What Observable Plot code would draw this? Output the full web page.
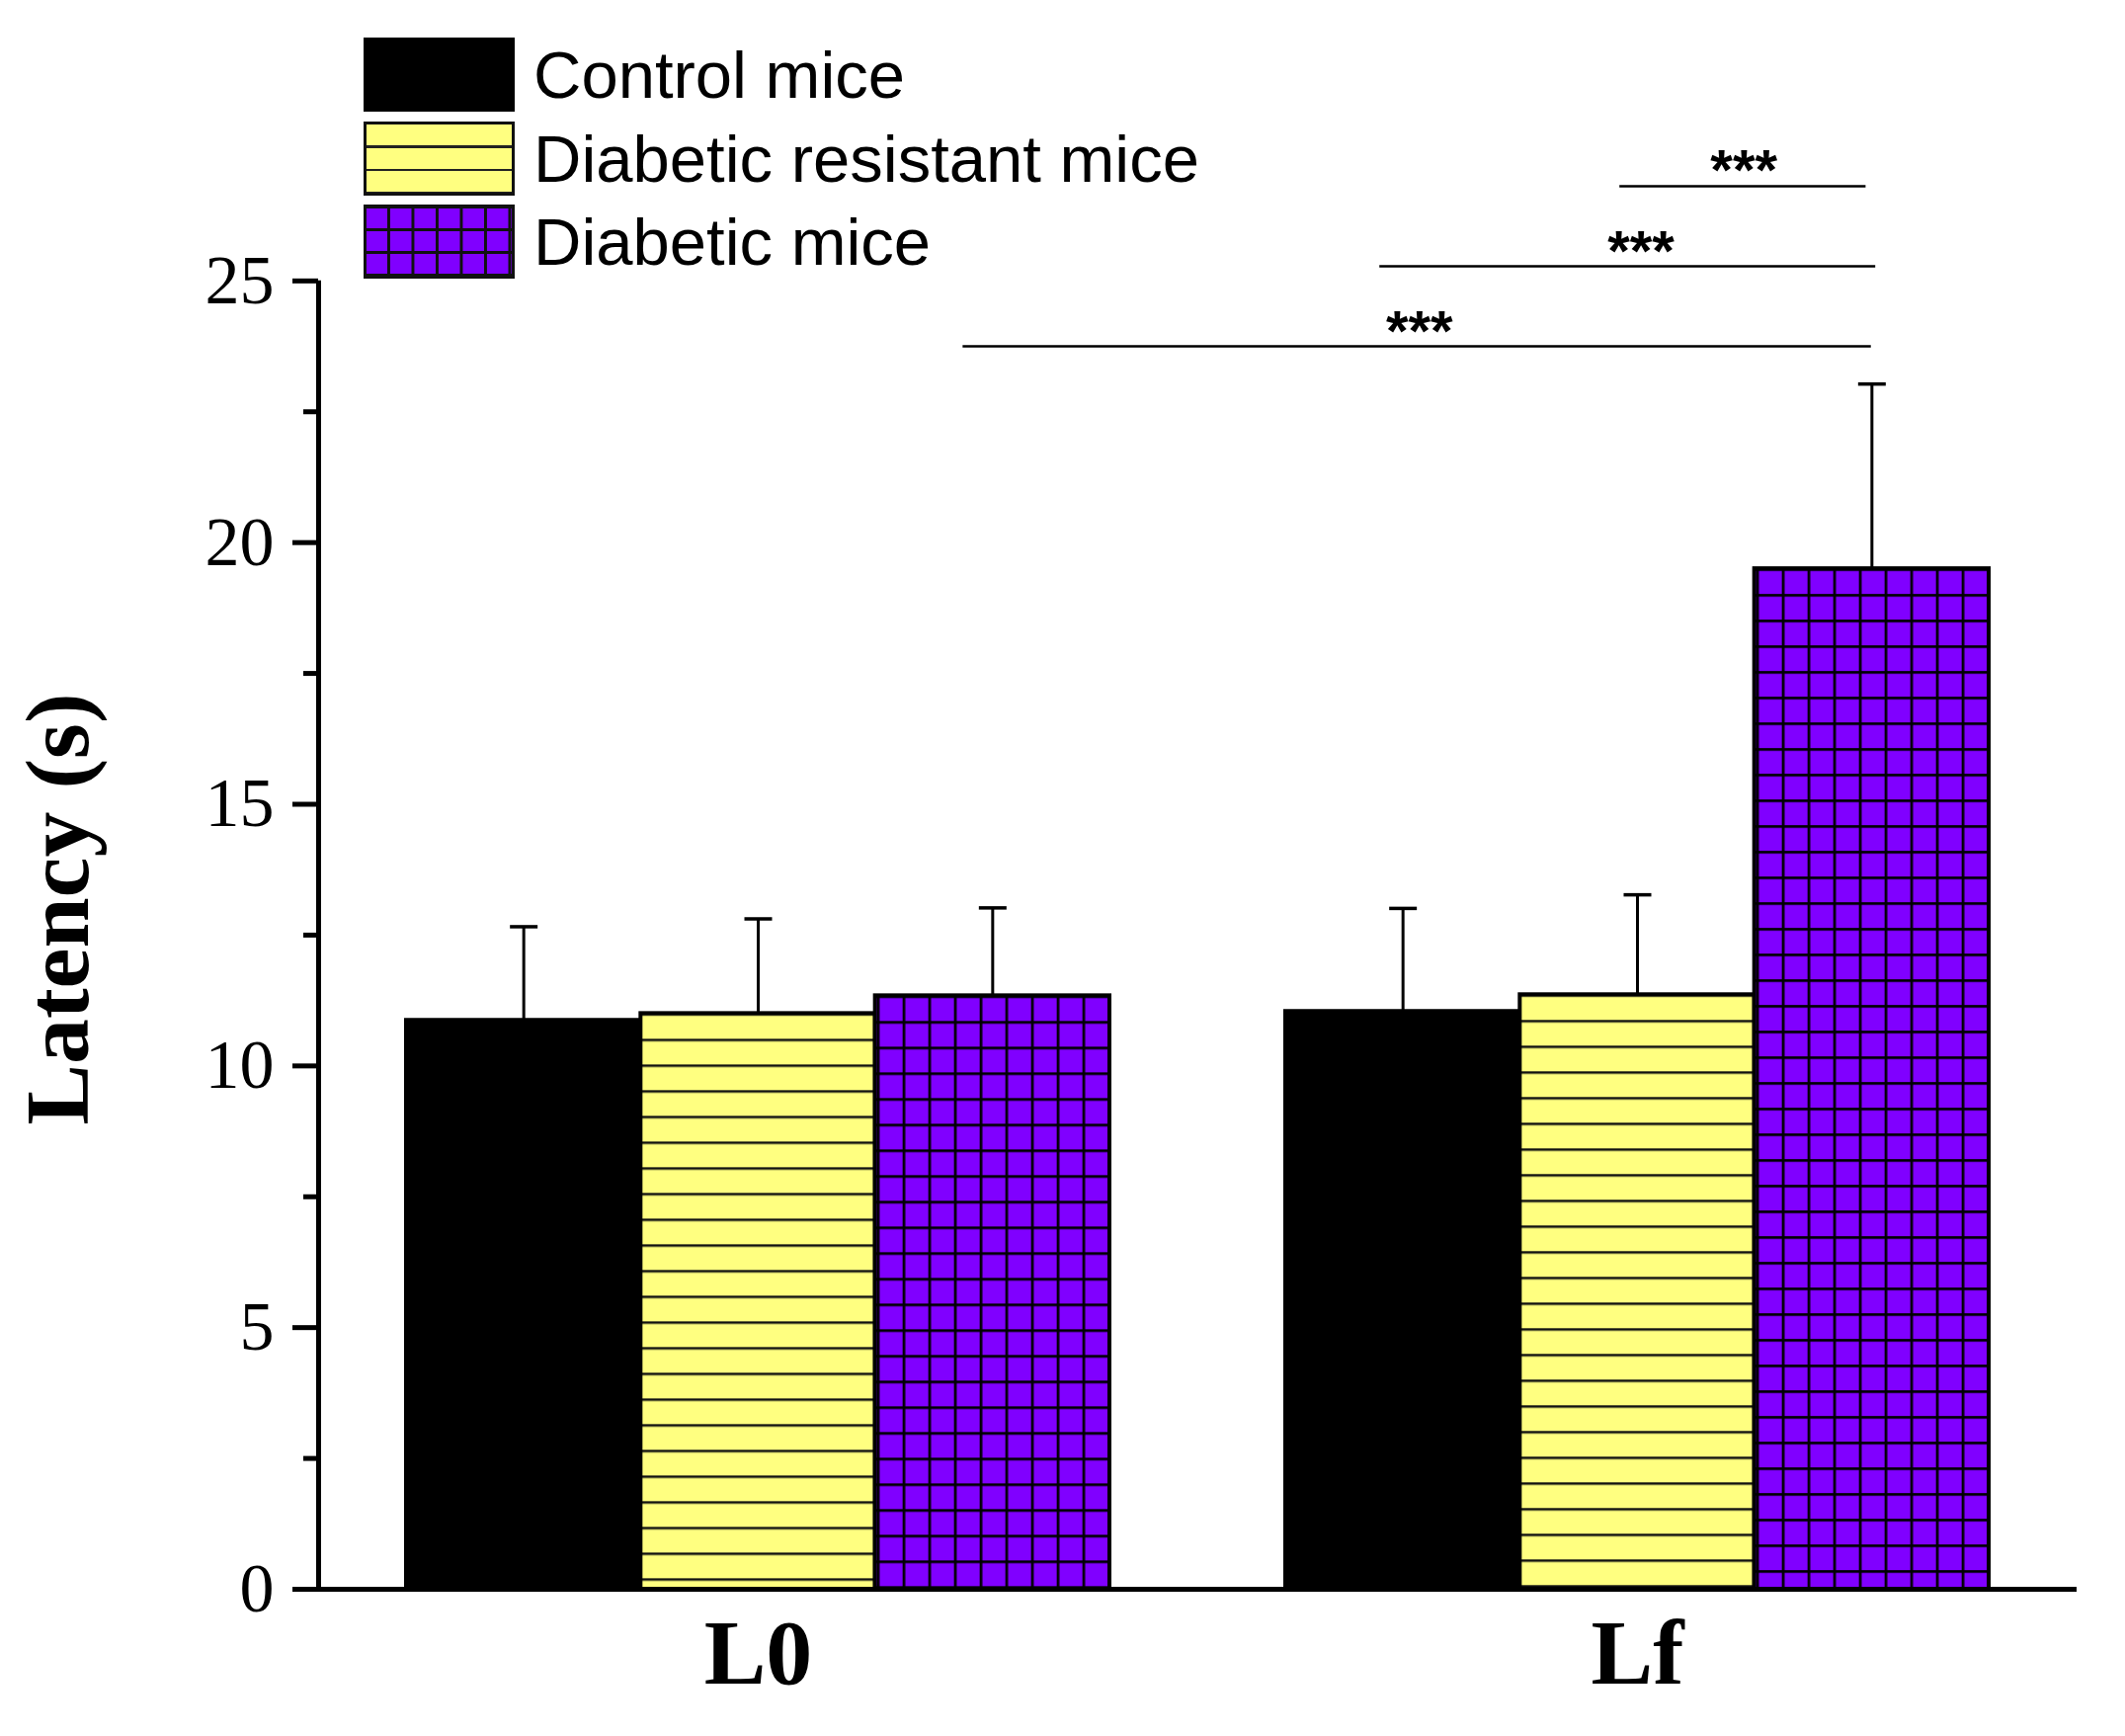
<!DOCTYPE html>
<html>
<head>
<meta charset="utf-8">
<script src="https://cdn.jsdelivr.net/npm/d3@7"></script>
<script src="https://cdn.jsdelivr.net/npm/@observablehq/plot@0.6"></script>
<style>
  html, body { margin: 0; padding: 0; background: #fff; }
  #wrap { position: relative; width: 2151px; height: 1757px; }
  #legend { position: absolute; left: 368px; top: 38px; font-family: "Liberation Sans", Arial, sans-serif; font-size: 67px; color: #000; }
  .item { display: flex; align-items: center; height: 75px; margin-bottom: 9.5px; line-height: 1; white-space: nowrap; }
  .sw { width: 153px; height: 75px; box-sizing: border-box; margin-right: 19px; flex: none; }
  .sw0 { background: #000; }
  .sw1 { border: 3px solid #111; background: repeating-linear-gradient(to bottom, #ffff80 0px, #ffff80 21px, #222 21px, #222 23.5px); }
  .sw2 { border: 3px solid #111; background-color: #8000ff;
         background-image: linear-gradient(to right, #111 3px, transparent 3px), linear-gradient(to bottom, #111 3px, transparent 3px);
         background-size: 24.5px 23px; background-position: 21px 21px; }
</style>
</head>
<body>
<div id="wrap"><div id="chart"></div><div id="legend"></div></div>
<script>
// ---- data ----
const groups = ["L0", "Lf"];
const seriesNames = ["Control mice", "Diabetic resistant mice", "Diabetic mice"];
const controlMean = [10.87, 11.04];
const controlSD = [1.79, 1.97];
const resistantMean = [11.00, 11.36];
const resistantSD = [1.81, 1.91];
const diabeticMean = [11.34, 19.50];
const diabeticSD = [1.68, 3.53];
const yMajorTicks = [0, 5, 10, 15, 20, 25];
const yMinorTicks = [2.5, 7.5, 12.5, 17.5, 22.5];
const yLabel = "Latency (s)";
const sigLabels = ["***", "***", "***"];
const sigFrom = [0.733, 1.207, 1.480];
const sigTo = [1.766, 1.771, 1.760];
const sigLevel = [23.75, 25.28, 26.81];
const sigLabelX = [1.252, 1.504, 1.621];

// ---- derived tables ----
const means = [controlMean, resistantMean, diabeticMean];
const sds = [controlSD, resistantSD, diabeticSD];
const fills = ["#000", "url(#yellowLines)", "url(#purpleGrid)"];
const groupPad = 0.1;
const barW = (1 - 2 * groupPad) / seriesNames.length;
const bars = groups.flatMap((g, gi) => seriesNames.map((name, si) => ({
  group: g, series: name, si,
  x1: gi + groupPad + si * barW,
  x2: gi + groupPad + (si + 1) * barW,
  xc: gi + groupPad + (si + 0.5) * barW,
  mean: means[si][gi],
  top: means[si][gi] + sds[si][gi]
})));
const sig = sigLabels.map((label, i) => ({label, x1: sigFrom[i], x2: sigTo[i], y: sigLevel[i], lx: sigLabelX[i]}));

const capSymbol = {
  draw(context, size) {
    const r = Math.sqrt(size / Math.PI);
    context.moveTo(-r, 0);
    context.lineTo(r, 0);
  }
};

const serif = "'Liberation Serif', 'Times New Roman', serif";

const plot = Plot.plot({
  width: 2151,
  height: 1757,
  marginLeft: 322,
  marginRight: 49,
  marginTop: 19,
  marginBottom: 149,
  x: {domain: [0, groups.length]},
  y: {domain: [0, 30]},
  style: {fontFamily: serif, background: "#fff", color: "#000", overflow: "visible"},
  marks: [
    ...seriesNames.map((name, si) => Plot.rect(bars.filter(d => d.si === si), {
      x1: "x1", x2: "x2", y1: 0, y2: "mean",
      fill: fills[si], stroke: "#000", strokeWidth: 4
    })),
    Plot.ruleX(bars, {x: "xc", y1: "mean", y2: "top", stroke: "#000", strokeWidth: 3}),
    Plot.dot(bars, {x: "xc", y: "top", r: 14, symbol: capSymbol, stroke: "#000", strokeWidth: 3.5, fill: "none"}),
    Plot.ruleY([0], {stroke: "#000", strokeWidth: 5}),
    Plot.ruleX([0], {y1: 0, y2: d3.max(yMajorTicks), stroke: "#000", strokeWidth: 5}),
    Plot.axisY({ticks: yMajorTicks, tickSize: 26, tickPadding: 19, strokeWidth: 5, fontSize: 70, label: null, fontFamily: serif}),
    Plot.axisY({ticks: yMinorTicks, tickSize: 15, tickFormat: () => "", strokeWidth: 5, label: null}),
    Plot.axisX({ticks: groups.map((_, i) => i + 0.5), tickFormat: d => groups[Math.floor(d)], tickSize: 0, tickPadding: 29,
                fontSize: 94, fontWeight: "bold", label: null, fontFamily: serif}),
    Plot.text([yLabel], {frameAnchor: "left", y: 13, rotate: -90, dx: -263, fontSize: 92, fontWeight: "bold",
                         textAnchor: "middle", lineAnchor: "middle", fontFamily: serif}),
    Plot.ruleY(sig, {x1: "x1", x2: "x2", y: "y", stroke: "#000", strokeWidth: 2.5}),
    Plot.text(sig, {x: "lx", y: "y", text: "label", fontFamily: "'Liberation Sans', Arial, sans-serif", fontWeight: "bold",
                    fontSize: 58, lineAnchor: "bottom", dy: 4})
  ]
});

// patterns aligned to each bar's top-left corner (taken from the rendered rects)
const NS = "http://www.w3.org/2000/svg";
const defs = document.createElementNS(NS, "defs");
plot.insertBefore(defs, plot.firstChild);
function mk(tag, attrs, parent) {
  const el = document.createElementNS(NS, tag);
  for (const k in attrs) el.setAttribute(k, attrs[k]);
  if (parent) parent.appendChild(el);
  return el;
}
let pid = 0;
function pattern(rect, kind) {
  const id = kind + "-" + (pid++);
  const p = mk("pattern", {id, patternUnits: "userSpaceOnUse", x: rect.getAttribute("x"), y: rect.getAttribute("y"),
                           width: 26, height: 26}, defs);
  if (kind === "yellowLines") {
    mk("rect", {width: 26, height: 26, fill: "#ffff80"}, p);
    mk("rect", {width: 26, height: 2.5, fill: "#111"}, p);
  } else {
    mk("rect", {width: 26, height: 26, fill: "#8000ff"}, p);
    mk("rect", {width: 26, height: 2.7, fill: "#000"}, p);
    mk("rect", {x: 2, width: 2.7, height: 26, fill: "#000"}, p);
  }
  rect.setAttribute("fill", `url(#${id})`);
}
for (const kind of ["yellowLines", "purpleGrid"]) {
  plot.querySelectorAll(`g[fill="url(#${kind})"] rect`).forEach(r => pattern(r, kind));
}

document.getElementById("chart").appendChild(plot);

// legend
const legend = document.getElementById("legend");
seriesNames.forEach((name, i) => {
  const item = document.createElement("div");
  item.className = "item";
  const sw = document.createElement("div");
  sw.className = "sw sw" + i;
  const label = document.createElement("span");
  label.textContent = name;
  item.appendChild(sw);
  item.appendChild(label);
  legend.appendChild(item);
});
</script>
</body>
</html>
